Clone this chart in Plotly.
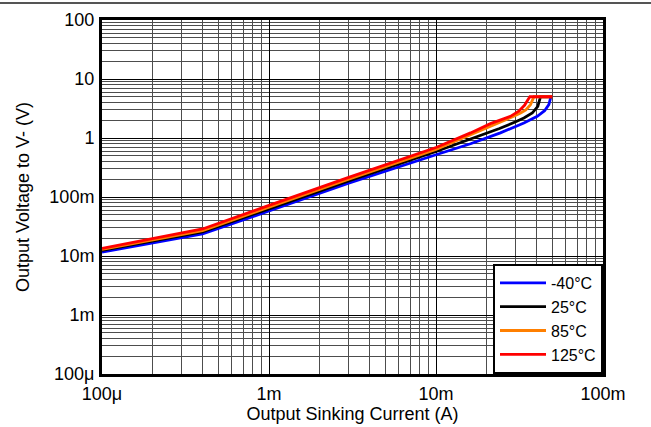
import plotly.graph_objects as go

# Data
x_m40 = [1e-4, 4e-4, 1e-3, 3e-3, 1e-2, 1.61e-2, 2.43e-2, 3.36e-2, 4.04e-2, 4.47e-2, 4.74e-2, 4.85e-2, 4.88e-2, 4.97e-2]
y_m40 = [0.0116, 0.0236, 0.058, 0.172, 0.52, 0.80, 1.22, 1.80, 2.33, 2.90, 3.67, 4.6, 5.0, 5.0]

x_25 = [1e-4, 4e-4, 1e-3, 3e-3, 1e-2, 1.6e-2, 2.4e-2, 3.0e-2, 3.36e-2, 3.77e-2, 4.07e-2, 4.19e-2, 4.22e-2, 4.97e-2]
y_25 = [0.0125, 0.0255, 0.063, 0.188, 0.59, 0.95, 1.45, 1.88, 2.18, 2.65, 3.44, 4.6, 5.0, 5.0]

x_85 = [1e-4, 4e-4, 1e-3, 3e-3, 1e-2, 1.6e-2, 2.2e-2, 2.92e-2, 3.21e-2, 3.45e-2, 3.68e-2, 3.82e-2, 3.86e-2, 4.97e-2]
y_85 = [0.013, 0.027, 0.067, 0.20, 0.64, 1.12, 1.62, 2.33, 2.65, 3.0, 3.67, 4.6, 5.0, 5.0]

x_125 = [1e-4, 4e-4, 1e-3, 3e-3, 1e-2, 1.25e-2, 1.61e-2, 2.12e-2, 2.79e-2, 3.13e-2, 3.39e-2, 3.55e-2, 3.65e-2, 4.97e-2]
y_125 = [0.0135, 0.0287, 0.072, 0.215, 0.69, 0.89, 1.22, 1.75, 2.33, 2.84, 3.58, 4.46, 5.0, 5.0]

series_names = ["-40°C", "25°C", "85°C", "125°C"]
series_colors = ["#0000FF", "#000000", "#FF7F00", "#FF0000"]
series_x = [x_m40, x_25, x_85, x_125]
series_y = [y_m40, y_25, y_85, y_125]

x_tickvals = [1e-4, 1e-3, 1e-2, 1e-1]
x_ticktext = ["100μ", "1m", "10m", "100m"]
y_tickvals = [1e-4, 1e-3, 1e-2, 1e-1, 1, 10, 100]
y_ticktext = ["100μ", "1m", "10m", "100m", "1", "10", "100"]

FONT = "Liberation Sans, Arial, sans-serif"
FS = 18

fig = go.Figure()
for name, color, xs, ys in zip(series_names, series_colors, series_x, series_y):
    fig.add_trace(go.Scatter(x=xs, y=ys, mode="lines", name=name,
                             line=dict(color=color, width=2.8)))

axis_common = dict(
    type="log", automargin=False,
    showline=True, linecolor="black", linewidth=3, mirror=True,
    showgrid=True, gridcolor="black", gridwidth=1,
    ticks="outside", ticklen=1, tickcolor="rgba(0,0,0,0)",
    tickfont=dict(family=FONT, size=FS, color="black"),
    minor=dict(dtick="D1", showgrid=True, gridcolor="#4d4d4d", gridwidth=1, ticks=""),
    zeroline=False,
)

fig.update_xaxes(**axis_common, range=[-4, -1], tickvals=x_tickvals, ticktext=x_ticktext,
                 title=dict(text="Output Sinking Current (A)", font=dict(family=FONT, size=FS, color="black"), standoff=0))
fig.update_yaxes(**axis_common, range=[-4, 2], tickvals=y_tickvals, ticktext=y_ticktext,
                 title=dict(text="Output Voltage to V- (V)", font=dict(family=FONT, size=FS, color="black"), standoff=16))

fig.add_shape(type="line", xref="paper", yref="paper",
              x0=-102/501, x1=549/501, y0=(374-3)/354, y1=(374-3)/354,
              line=dict(color="#555555", width=2))

fig.update_layout(
    width=651, height=427,
    margin=dict(l=102, r=48, t=20, b=53),
    paper_bgcolor="white", plot_bgcolor="white",
    font=dict(family=FONT, size=FS, color="black"),
    legend=dict(x=1, xanchor="right", y=0, yanchor="bottom",
                bgcolor="white", bordercolor="black", borderwidth=2,
                font=dict(family=FONT, size=16, color="black"),
                tracegroupgap=0, itemwidth=46),
    showlegend=True,
)

fig.write_html("out.html", config={"displayModeBar": False},
               post_script="document.body.style.margin='0';document.body.style.padding='0';")
